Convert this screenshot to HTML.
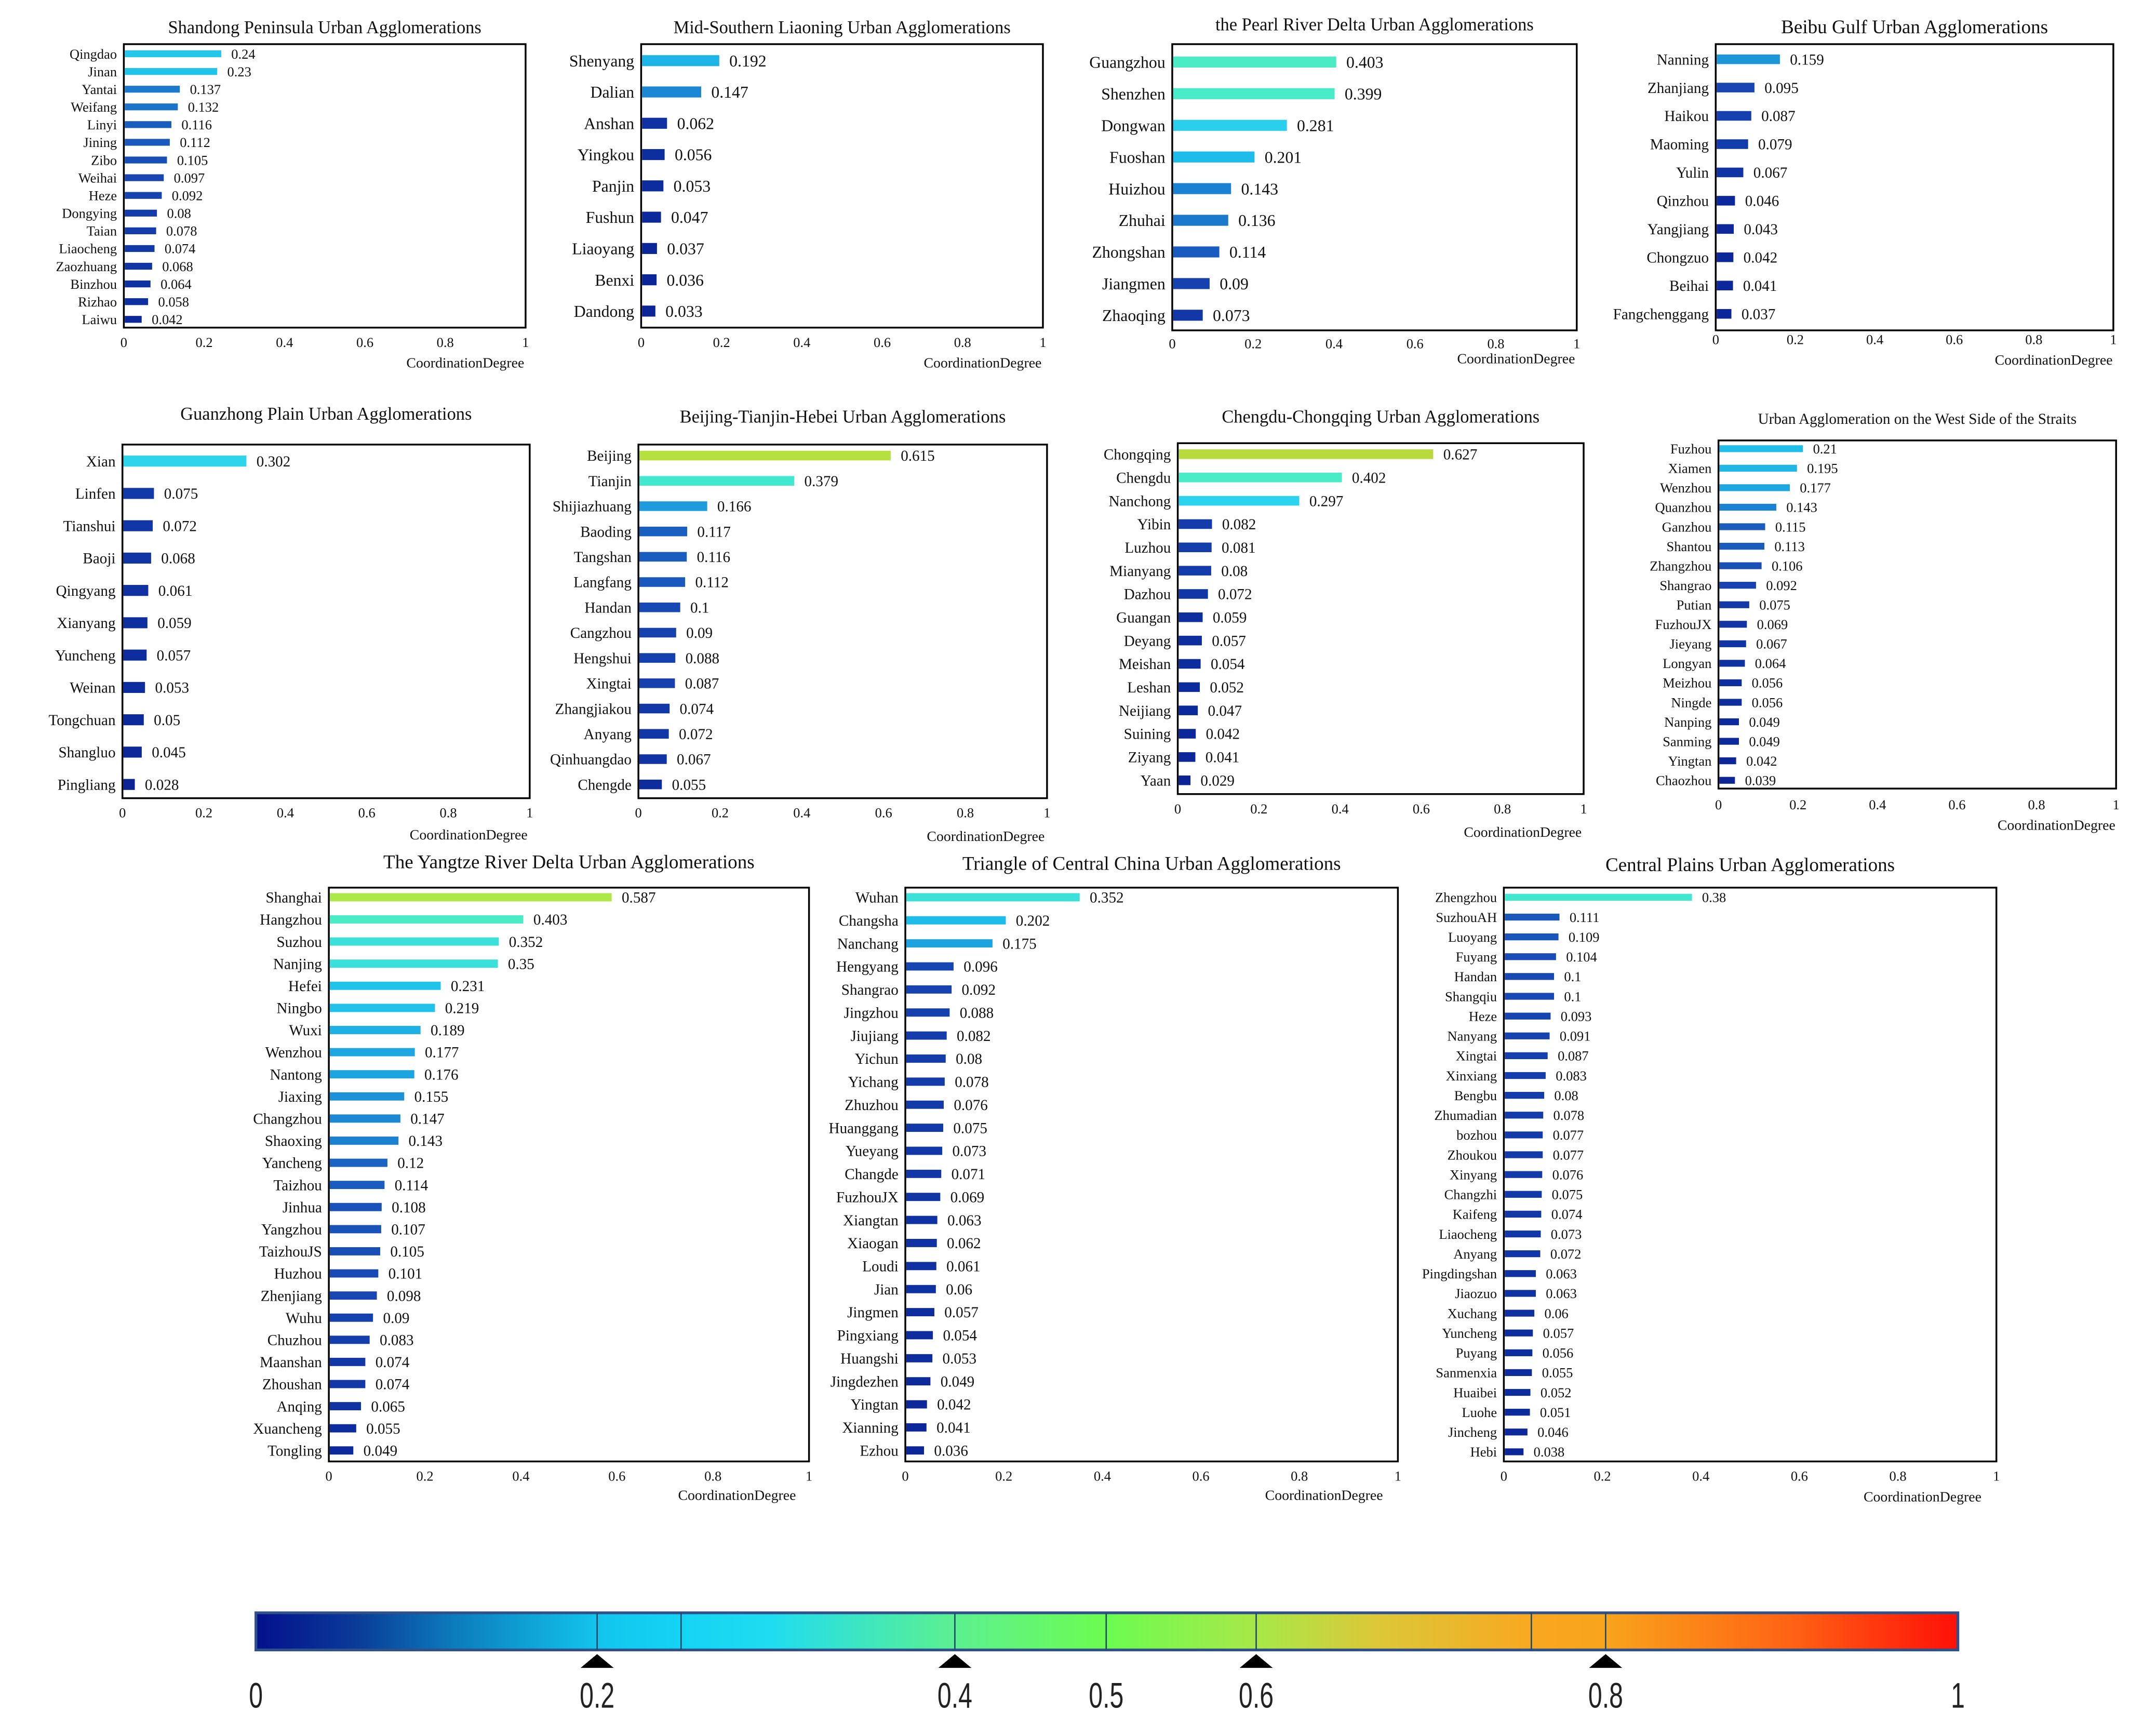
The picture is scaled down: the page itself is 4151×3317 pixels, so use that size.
<!DOCTYPE html>
<html><head><meta charset="utf-8"><style>
html,body{margin:0;padding:0;background:#fff;}
svg{display:block;font-family:"Liberation Serif",serif;}
</style></head><body>
<svg id="chart" width="4151" height="3317" viewBox="0 0 1567 1252" xmlns="http://www.w3.org/2000/svg">
<defs>
<linearGradient id="cbg" gradientUnits="userSpaceOnUse" x1="186" x2="1423" y1="0" y2="0">
<stop offset="0" stop-color="#04108c"/>
<stop offset="0.06" stop-color="#0a3c98"/>
<stop offset="0.117" stop-color="#0c7cbc"/>
<stop offset="0.2" stop-color="#12c4ec"/>
<stop offset="0.25" stop-color="#14d4f4"/>
<stop offset="0.303" stop-color="#20dcf0"/>
<stop offset="0.411" stop-color="#5cf090"/>
<stop offset="0.5" stop-color="#6cfc50"/>
<stop offset="0.588" stop-color="#a8e848"/>
<stop offset="0.658" stop-color="#dcc838"/>
<stop offset="0.75" stop-color="#f8a820"/>
<stop offset="0.793" stop-color="#f8a41c"/>
<stop offset="0.9" stop-color="#ff6414"/>
<stop offset="1" stop-color="#ff1008"/>
</linearGradient>
</defs>
<g id="panels"></g>
<g id="colorbar"></g>
</svg>
<script>
const shandongNames=["Qingdao","Jinan","Yantai","Weifang","Linyi","Jining","Zibo","Weihai","Heze","Dongying","Taian","Liaocheng","Zaozhuang","Binzhou","Rizhao","Laiwu"];
const shandongValues=[0.24,0.23,0.137,0.132,0.116,0.112,0.105,0.097,0.092,0.08,0.078,0.074,0.068,0.064,0.058,0.042];
const liaoningNames=["Shenyang","Dalian","Anshan","Yingkou","Panjin","Fushun","Liaoyang","Benxi","Dandong"];
const liaoningValues=[0.192,0.147,0.062,0.056,0.053,0.047,0.037,0.036,0.033];
const pearlNames=["Guangzhou","Shenzhen","Dongwan","Fuoshan","Huizhou","Zhuhai","Zhongshan","Jiangmen","Zhaoqing"];
const pearlValues=[0.403,0.399,0.281,0.201,0.143,0.136,0.114,0.09,0.073];
const beibuNames=["Nanning","Zhanjiang","Haikou","Maoming","Yulin","Qinzhou","Yangjiang","Chongzuo","Beihai","Fangchenggang"];
const beibuValues=[0.159,0.095,0.087,0.079,0.067,0.046,0.043,0.042,0.041,0.037];
const guanzhongNames=["Xian","Linfen","Tianshui","Baoji","Qingyang","Xianyang","Yuncheng","Weinan","Tongchuan","Shangluo","Pingliang"];
const guanzhongValues=[0.302,0.075,0.072,0.068,0.061,0.059,0.057,0.053,0.05,0.045,0.028];
const bthNames=["Beijing","Tianjin","Shijiazhuang","Baoding","Tangshan","Langfang","Handan","Cangzhou","Hengshui","Xingtai","Zhangjiakou","Anyang","Qinhuangdao","Chengde"];
const bthValues=[0.615,0.379,0.166,0.117,0.116,0.112,0.1,0.09,0.088,0.087,0.074,0.072,0.067,0.055];
const chengyuNames=["Chongqing","Chengdu","Nanchong","Yibin","Luzhou","Mianyang","Dazhou","Guangan","Deyang","Meishan","Leshan","Neijiang","Suining","Ziyang","Yaan"];
const chengyuValues=[0.627,0.402,0.297,0.082,0.081,0.08,0.072,0.059,0.057,0.054,0.052,0.047,0.042,0.041,0.029];
const straitNames=["Fuzhou","Xiamen","Wenzhou","Quanzhou","Ganzhou","Shantou","Zhangzhou","Shangrao","Putian","FuzhouJX","Jieyang","Longyan","Meizhou","Ningde","Nanping","Sanming","Yingtan","Chaozhou"];
const straitValues=[0.21,0.195,0.177,0.143,0.115,0.113,0.106,0.092,0.075,0.069,0.067,0.064,0.056,0.056,0.049,0.049,0.042,0.039];
const yangtzeNames=["Shanghai","Hangzhou","Suzhou","Nanjing","Hefei","Ningbo","Wuxi","Wenzhou","Nantong","Jiaxing","Changzhou","Shaoxing","Yancheng","Taizhou","Jinhua","Yangzhou","TaizhouJS","Huzhou","Zhenjiang","Wuhu","Chuzhou","Maanshan","Zhoushan","Anqing","Xuancheng","Tongling"];
const yangtzeValues=[0.587,0.403,0.352,0.35,0.231,0.219,0.189,0.177,0.176,0.155,0.147,0.143,0.12,0.114,0.108,0.107,0.105,0.101,0.098,0.09,0.083,0.074,0.074,0.065,0.055,0.049];
const centralNames=["Wuhan","Changsha","Nanchang","Hengyang","Shangrao","Jingzhou","Jiujiang","Yichun","Yichang","Zhuzhou","Huanggang","Yueyang","Changde","FuzhouJX","Xiangtan","Xiaogan","Loudi","Jian","Jingmen","Pingxiang","Huangshi","Jingdezhen","Yingtan","Xianning","Ezhou"];
const centralValues=[0.352,0.202,0.175,0.096,0.092,0.088,0.082,0.08,0.078,0.076,0.075,0.073,0.071,0.069,0.063,0.062,0.061,0.06,0.057,0.054,0.053,0.049,0.042,0.041,0.036];
const plainsNames=["Zhengzhou","SuzhouAH","Luoyang","Fuyang","Handan","Shangqiu","Heze","Nanyang","Xingtai","Xinxiang","Bengbu","Zhumadian","bozhou","Zhoukou","Xinyang","Changzhi","Kaifeng","Liaocheng","Anyang","Pingdingshan","Jiaozuo","Xuchang","Yuncheng","Puyang","Sanmenxia","Huaibei","Luohe","Jincheng","Hebi"];
const plainsValues=[0.38,0.111,0.109,0.104,0.1,0.1,0.093,0.091,0.087,0.083,0.08,0.078,0.077,0.077,0.076,0.075,0.074,0.073,0.072,0.063,0.063,0.06,0.057,0.056,0.055,0.052,0.051,0.046,0.038];
const xTicks=[0,0.2,0.4,0.6,0.8,1];
const cbTickValues=[0,0.2,0.4,0.5,0.6,0.8,1];
const cbTickPos=[186,434,694,804,913,1167,1423];

const NS="http://www.w3.org/2000/svg";
function mk(tag,attrs,parent,text){const e=document.createElementNS(NS,tag);for(const k in attrs)e.setAttribute(k,attrs[k]);if(text!==undefined)e.textContent=text;parent.appendChild(e);return e;}
function hex(c){return [parseInt(c.slice(1,3),16),parseInt(c.slice(3,5),16),parseInt(c.slice(5,7),16)];}
const stops=[[0,"#0a1a8c"],[0.05,"#0c2a9c"],[0.1,"#1848b4"],[0.15,"#1c8cd6"],[0.2,"#1ebce8"],[0.3,"#2cd4ec"],[0.4,"#48ecc8"],[0.6,"#b4e840"],[1,"#f01c10"]];
function colorOf(v){for(let i=0;i<stops.length-1;i++){const[a,ca]=stops[i],[b,cb]=stops[i+1];if(v<=b){const t=(v-a)/(b-a),x=hex(ca),y=hex(cb);return "rgb("+x.map((q,j)=>Math.round(q+(y[j]-q)*t)).join(",")+")";}}return stops[stops.length-1][1];}

const panels=[
{id:"shandong",title:"Shandong  Peninsula  Urban  Agglomerations",names:shandongNames,values:shandongValues,x0:90,x1:382,y0:32,y1:238,c0:39,c1:232,bh:5,fs:10,ty:24,tfs:13,tky:252,aly:267},
{id:"liaoning",title:"Mid-Southern  Liaoning  Urban  Agglomerations",names:liaoningNames,values:liaoningValues,x0:466,x1:758,y0:32,y1:238,c0:44,c1:226,bh:8,fs:12,ty:24,tfs:13,tky:252,aly:267},
{id:"pearl",title:"the Pearl River Delta Urban Agglomerations",names:pearlNames,values:pearlValues,x0:852,x1:1146,y0:32,y1:240,c0:45,c1:229,bh:8,fs:12,ty:22,tfs:13,tky:253,aly:264},
{id:"beibu",title:"Beibu Gulf Urban Agglomerations",names:beibuNames,values:beibuValues,x0:1247,x1:1536,y0:32,y1:240,c0:43,c1:228,bh:7,fs:11,ty:24,tfs:14,tky:250,aly:265},
{id:"guanzhong",title:"Guanzhong  Plain  Urban  Agglomerations",names:guanzhongNames,values:guanzhongValues,x0:89,x1:385,y0:323,y1:580,c0:335,c1:570,bh:8,fs:11,ty:305,tfs:13,tky:594,aly:610},
{id:"bth",title:"Beijing-Tianjin-Hebei  Urban  Agglomerations",names:bthNames,values:bthValues,x0:464,x1:761,y0:323,y1:580,c0:331,c1:570,bh:7,fs:11,ty:307,tfs:13,tky:594,aly:611},
{id:"chengyu",title:"Chengdu-Chongqing  Urban  Agglomerations",names:chengyuNames,values:chengyuValues,x0:856,x1:1151,y0:322,y1:577,c0:330,c1:567,bh:7,fs:11,ty:307,tfs:13,tky:591,aly:608},
{id:"strait",title:"Urban Agglomeration on the West Side of the Straits",names:straitNames,values:straitValues,x0:1249,x1:1538,y0:320,y1:573,c0:326,c1:567,bh:5,fs:10,ty:308,tfs:11,tky:588,aly:603},
{id:"yangtze",title:"The Yangtze  River Delta Urban  Agglomerations",names:yangtzeNames,values:yangtzeValues,x0:239,x1:588,y0:645,y1:1062,c0:652,c1:1054,bh:6,fs:11,ty:631,tfs:14,tky:1076,aly:1090},
{id:"central",title:"Triangle of Central China Urban Agglomerations",names:centralNames,values:centralValues,x0:658,x1:1016,y0:645,y1:1062,c0:652,c1:1054,bh:6,fs:11,ty:632,tfs:14,tky:1076,aly:1090},
{id:"plains",title:"Central Plains Urban Agglomerations",names:plainsNames,values:plainsValues,x0:1093,x1:1451,y0:645,y1:1062,c0:652,c1:1055,bh:5,fs:10,ty:633,tfs:14,tky:1076,aly:1091}
];
const root=document.getElementById("panels");
panels.forEach(p=>{
  const g=mk("g",{},root);
  
  
  const xs=v=>p.x0+(p.x1-p.x0)*v;
  const n=p.names.length, step=n>1?(p.c1-p.c0)/(n-1):0;
  const ys=i=>p.c0+step*i;
  const t=mk("text",{x:(p.x0+p.x1)/2,y:p.ty,"text-anchor":"middle","font-size":p.tfs,fill:"#111"},g,p.title);
  
  
  const fr=mk("rect",{x:p.x0,y:p.y0,width:p.x1-p.x0,height:p.y1-p.y0,fill:"none",stroke:"#000","stroke-width":1.3},g);
  
  
  p.values.forEach((v,i)=>{
    const y=ys(i);
    const b=mk("rect",{x:p.x0+0.7,y:y-p.bh/2,width:Math.max(0,xs(v)-p.x0),height:p.bh,fill:colorOf(v)},g);
    
    
    const l=mk("text",{x:p.x0-5,y:y+p.fs*0.35,"text-anchor":"end","font-size":p.fs,fill:"#111"},g,p.names[i]);
    
    
    const vl=mk("text",{x:xs(v)+8,y:y+p.fs*0.35,"font-size":p.fs,fill:"#111"},g,String(v));
    
    
  });
  xTicks.forEach(tv=>{
    const tl=mk("text",{x:xs(tv),y:p.tky,"text-anchor":"middle","font-size":10,fill:"#111"},g,String(tv));
    
    
  });
  const al=mk("text",{x:p.x0+(p.x1-p.x0)*0.85,y:p.aly,"text-anchor":"middle","font-size":10.5,fill:"#111"},g,"CoordinationDegree");
  
  
});
// colorbar
const cb=document.getElementById("colorbar");
const cx0=186,cx1=1423,cy0=1172,cy1=1199;
mk("rect",{x:cx0,y:cy0,width:cx1-cx0,height:cy1-cy0,fill:"url(#cbg)"},cb);
mk("rect",{x:cx0,y:cy0,width:cx1-cx0,height:cy1-cy0,fill:"none",stroke:"#30508a","stroke-width":2},cb);
[434,495,694,804,913,1113,1167].forEach(x=>{mk("line",{x1:x,x2:x,y1:cy0,y2:cy1,stroke:"#1d4a6a","stroke-width":1},cb);});
[434,694,913,1167].forEach(x=>{
  const tr=mk("polygon",{points:(x-12)+",1212 "+x+",1202 "+(x+12)+",1212",fill:"#000"},cb);
  
  
});
cbTickValues.forEach((v,i)=>{
  const tx=mk("text",{x:0,y:0,"text-anchor":"middle","font-size":26,fill:"#222","font-family":"Liberation Sans, sans-serif",transform:"translate("+cbTickPos[i]+",1241) scale(0.7,1)"},cb,String(v));
  
  
});
</script>
</body></html>
